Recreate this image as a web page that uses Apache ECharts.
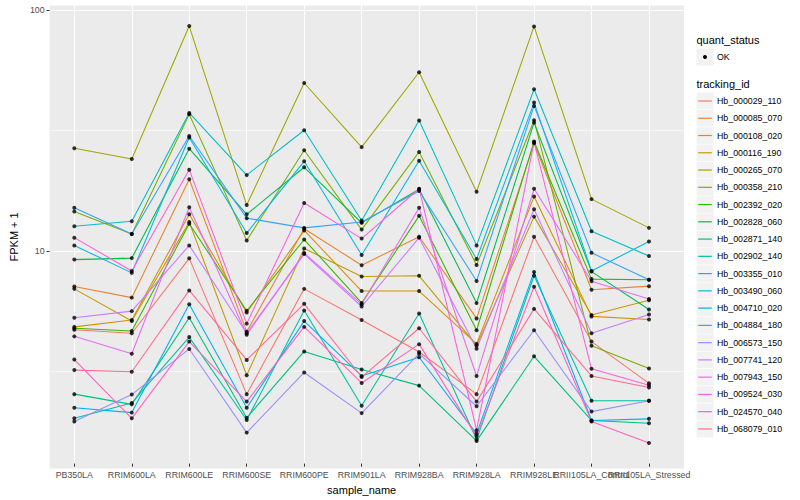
<!DOCTYPE html>
<html><head><meta charset="utf-8">
<script src="https://cdn.jsdelivr.net/npm/echarts@6/dist/echarts.min.js"></script>
<style>html,body{margin:0;padding:0;background:#fff}#c{width:800px;height:500px}</style>
</head><body><div id="c"></div>
<script>
// ---------- data ----------
const categories = ['PB350LA','RRIM600LA','RRIM600LE','RRIM600SE','RRIM600PE','RRIM901LA','RRIM928BA','RRIM928LA','RRIM928LE','RRII105LA_Control','RRII105LA_Stressed'];
const trackingIds = ['Hb_000029_110','Hb_000085_070','Hb_000108_020','Hb_000116_190','Hb_000265_070','Hb_000358_210','Hb_002392_020','Hb_002828_060','Hb_002871_140','Hb_002902_140','Hb_003355_010','Hb_003490_060','Hb_004710_020','Hb_004884_180','Hb_006573_150','Hb_007741_120','Hb_007943_150','Hb_009524_030','Hb_024570_040','Hb_068079_010'];
const seriesColors = ['#F8766D','#EA8331','#D89000','#C09B00','#A3A500','#7CAE00','#39B600','#00BB4E','#00BF7D','#00C1A3','#00BFC4','#00BAE0','#00B0F6','#35A2FF','#9590FF','#C77CFF','#E76BF3','#FA62DB','#FF62BC','#FF6C91'];

const Hb_000029_110 = [4.56, 4.41, 9.09, 2.45, 6.77, 5.01, 3.68, 2.45, 11.2, 4.07, 2.72];
const Hb_000085_070 = [6.93, 6.22, 19.5, 4.48, 12.1, 8.5, 11.2, 5.09, 27.6, 6.71, 6.95];
const Hb_000108_020 = [4.69, 5.01, 13.9, 5.39, 11.9, 6.63, 6.63, 3.98, 16.5, 5.19, 5.04];
const Hb_000116_190 = [6.77, 4.96, 12.9, 2.94, 10.0, 7.63, 7.68, 3.92, 13.6, 5.26, 6.06];
const Hb_000265_070 = [26.3, 23.7, 85.6, 15.2, 49.4, 26.6, 54.8, 17.3, 85.3, 16.1, 12.2];
const Hb_000358_210 = [14.3, 11.5, 36.5, 10.8, 25.8, 12.0, 25.4, 8.53, 34.5, 3.91, 3.14];
const Hb_002392_020 = [4.63, 4.51, 12.7, 5.48, 10.9, 5.91, 13.7, 4.54, 28.1, 7.44, 7.39];
const Hb_002828_060 = [8.98, 9.11, 26.2, 13.9, 21.9, 12.8, 17.7, 5.90, 33.7, 8.00, 5.55];
const Hb_002871_140 = [2.45, 2.22, 5.12, 1.95, 3.70, 3.11, 2.66, 1.56, 3.53, 1.90, 1.85];
const Hb_002902_140 = [1.94, 2.25, 4.25, 1.91, 5.49, 2.19, 5.34, 1.58, 7.68, 2.30, 2.30];
const Hb_003355_010 = [12.4, 13.0, 37.0, 20.3, 31.3, 13.1, 34.4, 10.3, 46.5, 11.8, 9.29];
const Hb_003490_060 = [10.3, 7.90, 29.2, 11.6, 23.2, 9.38, 23.3, 9.03, 40.9, 8.05, 10.7];
const Hb_004710_020 = [2.15, 2.05, 5.84, 2.15, 4.96, 2.92, 3.50, 1.67, 7.97, 1.90, 1.93];
const Hb_004884_180 = [14.8, 11.5, 29.6, 13.4, 12.2, 12.9, 17.4, 7.31, 39.6, 9.59, 7.39];
const Hb_006573_150 = [1.88, 2.44, 3.79, 1.69, 3.02, 2.04, 3.62, 2.18, 4.54, 2.07, 2.30];
const Hb_007741_120 = [5.12, 5.46, 10.3, 4.41, 9.47, 5.71, 11.1, 3.80, 14.6, 4.41, 5.29];
const Hb_007943_150 = [4.28, 3.62, 14.9, 4.35, 9.57, 5.84, 14.8, 2.92, 17.8, 7.29, 6.14];
const Hb_009524_030 = [11.1, 8.05, 21.4, 4.84, 15.5, 11.0, 17.8, 1.73, 27.9, 3.13, 2.67];
const Hb_024570_040 = [3.42, 1.94, 4.07, 2.28, 4.69, 2.73, 3.97, 1.63, 6.91, 1.88, 1.53];
const Hb_068079_010 = [3.09, 3.04, 6.67, 3.41, 5.86, 2.89, 4.63, 2.28, 5.58, 2.92, 2.61];

const seriesValues = [Hb_000029_110, Hb_000085_070, Hb_000108_020, Hb_000116_190, Hb_000265_070,
  Hb_000358_210, Hb_002392_020, Hb_002828_060, Hb_002871_140, Hb_002902_140, Hb_003355_010,
  Hb_003490_060, Hb_004710_020, Hb_004884_180, Hb_006573_150, Hb_007741_120, Hb_007943_150,
  Hb_009524_030, Hb_024570_040, Hb_068079_010];

const yMajorTicks = [10, 100];
const yMinorTicks = [3.1623, 31.623];
const yRange = [1.253, 104.5];
const quantStatus = ['OK'];

// ---------- chart ----------
const FONT = 'Liberation Sans, Arial, sans-serif';
const chart = echarts.init(document.getElementById('c'), null, {renderer: 'svg', width: 800, height: 500});

const series = seriesValues.map((vals, i) => ({
  name: trackingIds[i], type: 'line', xAxisIndex: 1, yAxisIndex: 2,
  data: vals, symbol: 'none', showSymbol: false, z: 2,
  lineStyle: {color: seriesColors[i], width: 1.07}, itemStyle: {color: seriesColors[i]},
  emphasis: {disabled: true}
}));
const points = [];
seriesValues.forEach(vals => vals.forEach((v, j) => points.push([j, v])));
series.push({
  name: quantStatus[0], type: 'scatter', xAxisIndex: 1, yAxisIndex: 2, data: points,
  symbol: 'circle', symbolSize: 4, itemStyle: {color: '#000'}, z: 5, emphasis: {disabled: true}
});

// legend (ggplot style) built from the arrays
const graphics = [];
const lx = 696.5, keyW = 17;
graphics.push({type: 'text', left: lx, top: 34, style: {text: 'quant_status', font: '11px ' + FONT, fill: '#000'}});
graphics.push({type: 'rect', shape: {x: lx, y: 48.6, width: keyW, height: keyW}, style: {fill: '#F2F2F2'}});
graphics.push({type: 'circle', shape: {cx: lx + keyW / 2, cy: 57.1, r: 2}, style: {fill: '#000'}});
graphics.push({type: 'text', x: lx + 20.5, y: 57.1, style: {text: quantStatus[0], font: '8.8px ' + FONT, fill: '#000', verticalAlign: 'middle'}});
graphics.push({type: 'text', left: lx, top: 78, style: {text: 'tracking_id', font: '11px ' + FONT, fill: '#000'}});
trackingIds.forEach((id, i) => {
  const cy = 101 + i * 17.26;
  graphics.push({type: 'rect', shape: {x: lx, y: cy - 8.3, width: keyW, height: 16.6}, style: {fill: '#F2F2F2'}});
  graphics.push({type: 'line', shape: {x1: lx + 1.7, y1: cy, x2: lx + keyW - 1.7, y2: cy}, style: {stroke: seriesColors[i], lineWidth: 1.2}});
  graphics.push({type: 'text', x: lx + 20.5, y: cy, style: {text: id, font: '8.8px ' + FONT, fill: '#000', verticalAlign: 'middle'}});
});

const option = {
  animation: false,
  textStyle: {fontFamily: FONT},
  grid: [
    {left: 40, right: 116, top: 5.4, bottom: 31.6, show: true, backgroundColor: '#EBEBEB', borderWidth: 0, containLabel: false},
    {left: 74.3, right: 151, top: 5.4, bottom: 31.6, containLabel: false}
  ],
  xAxis: [
    {type: 'value', gridIndex: 0, min: 0, max: 1, show: false},
    {type: 'category', gridIndex: 1, data: categories, boundaryGap: false,
     axisLine: {show: false},
     axisTick: {show: true, length: 3, lineStyle: {color: '#333', width: 1}},
     axisLabel: {interval: 0, color: '#4D4D4D', fontSize: 8.8, margin: 6.5, fontFamily: FONT},
     splitLine: {show: true, lineStyle: {color: '#FFFFFF', width: 1.07}},
     name: 'sample_name', nameLocation: 'middle', nameGap: 13,
     nameTextStyle: {fontSize: 11, color: '#000', fontFamily: FONT}}
  ],
  yAxis: [
    {type: 'log', gridIndex: 0, min: yRange[0], max: yRange[1], logBase: 10,
     axisLine: {show: false},
     axisTick: {show: true, length: 3, lineStyle: {color: '#333', width: 1}, customValues: yMajorTicks},
     axisLabel: {color: '#4D4D4D', fontSize: 8.8, margin: 5, fontFamily: FONT, customValues: yMajorTicks},
     splitLine: {show: true, lineStyle: {color: '#FFFFFF', width: 1.07}},
     name: 'FPKM + 1', nameLocation: 'middle', nameGap: 25, nameRotate: 90,
     nameTextStyle: {fontSize: 11, color: '#000', fontFamily: FONT}},
    {type: 'log', gridIndex: 0, min: yRange[0], max: yRange[1], logBase: 10, position: 'left',
     axisLine: {show: false}, axisLabel: {show: false},
     axisTick: {show: false, customValues: yMinorTicks},
     splitLine: {show: true, lineStyle: {color: '#FFFFFF', width: 0.55}}},
    {type: 'log', gridIndex: 1, min: yRange[0], max: yRange[1], logBase: 10,
     axisLine: {show: false}, axisLabel: {show: false}, axisTick: {show: false}, splitLine: {show: false}}
  ],
  series: series,
  graphic: graphics
};
chart.setOption(option);
</script></body></html>
